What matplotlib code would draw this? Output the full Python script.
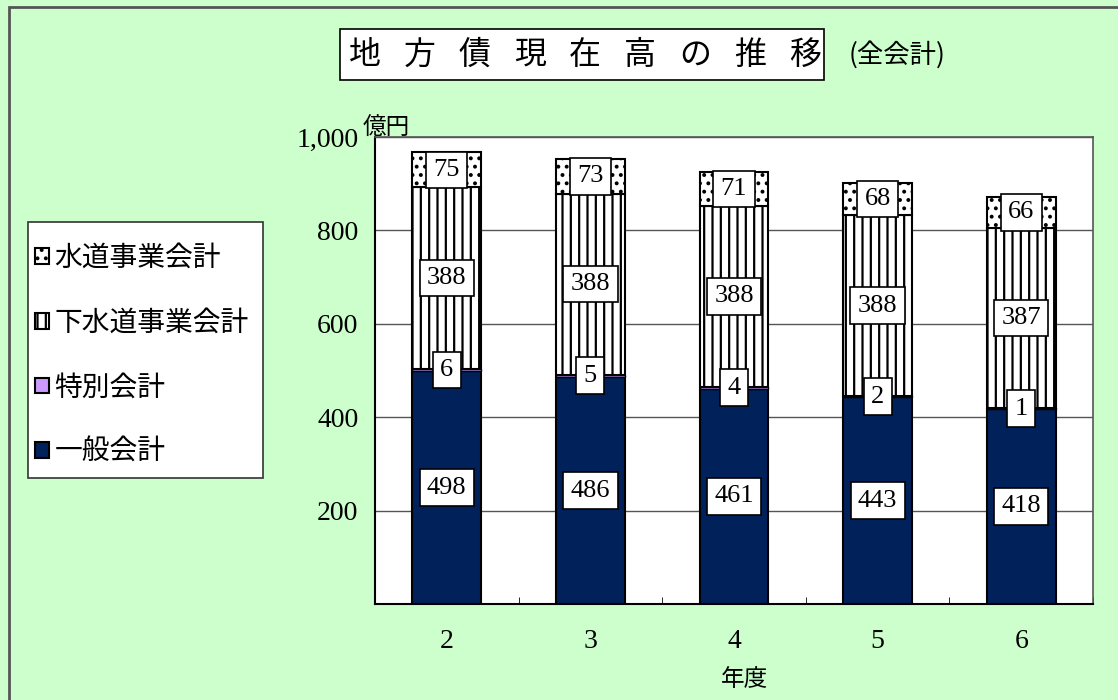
import matplotlib.pyplot as plt
from matplotlib.patches import Patch, Rectangle
import numpy as np

plt.rcParams['font.family'] = ['Noto Sans CJK JP', 'DejaVu Sans']
plt.rcParams['hatch.linewidth'] = 1.6

# fiscal years and outstanding debt by account (100 million yen)
years = ['2', '3', '4', '5', '6']
general = [498, 486, 461, 443, 418]
special = [6, 5, 4, 2, 1]
sewage = [388, 388, 388, 388, 387]
water = [75, 73, 71, 68, 66]

series_names = ['一般会計', '特別会計', '下水道事業会計', '水道事業会計']

W, H = 1118, 700
fig = plt.figure(figsize=(W / 100, H / 100), dpi=100)
fig.patch.set_facecolor('#CCFFCC')

def px(x, y):
    return x / W, 1 - y / H

def box(xa, ya, xb, yb, **kw):
    # rectangle given in pixel corners (top-left, bottom-right)
    fx0, fy0 = px(xa, yb)
    fx1, fy1 = px(xb, ya)
    fig.add_artist(Rectangle((fx0, fy0), fx1 - fx0, fy1 - fy0,
                             transform=fig.transFigure, **kw))

# outer frame
box(9, 7, 1130, 710, facecolor='none', edgecolor='#555555', lw=2)

ax = fig.add_axes([375 / W, 1 - 604 / H, (1093 - 375) / W, (604 - 137) / H])
ax.set_facecolor('white')

x = np.arange(len(years))
bw = 0.48
serif = 'Liberation Serif'

layers = [
    (general, dict(color='#00215A', edgecolor='black', lw=1.5)),
    (special, dict(color='#CC99FF', edgecolor='black', lw=1.0)),
    (sewage, dict(color='white', edgecolor='black', lw=1.5, hatch='||')),
    (water, dict(color='white', edgecolor='black', lw=1.5, hatch='..')),
]

bottom = np.zeros(len(years))
for vals, style in layers:
    vals = np.array(vals)
    ax.bar(x, vals, bw, bottom=bottom, zorder=3, **style)
    for xi, b, v in zip(x, bottom, vals):
        ax.text(xi, b + v / 2, str(v), ha='center', va='center', fontsize=19,
                family=serif, zorder=5,
                bbox=dict(boxstyle='square,pad=0.28', facecolor='white',
                          edgecolor='black', lw=1.2))
    bottom += vals

ax.set_xlim(-0.5, len(years) - 0.5)
ax.set_ylim(0, 1000)
ax.set_yticks([200, 400, 600, 800, 1000])
ax.set_yticklabels(['200', '400', '600', '800', '1,000'], family=serif, fontsize=20)
ax.set_xticks(x)
ax.set_xticklabels(years, family=serif, fontsize=20)
ax.set_xticks(np.arange(len(years) + 1) - 0.5, minor=True)
ax.tick_params(axis='x', which='major', length=0, pad=18)
ax.tick_params(axis='x', which='minor', direction='in', length=5)
ax.tick_params(axis='y', length=0, pad=12)
ax.yaxis.grid(True, color='#555555', lw=1, zorder=0)

for side in ['left', 'bottom']:
    ax.spines[side].set_color('black')
    ax.spines[side].set_linewidth(1.5)
for side in ['top', 'right']:
    ax.spines[side].set_color('#555555')
    ax.spines[side].set_linewidth(1.2)

fig.text(*px(386, 128), '億円', ha='center', va='center', fontsize=17)
fig.text(*px(745, 680), '年度', ha='center', va='center', fontsize=17)

# title in a box, characters spread evenly
box(340, 29, 824, 80, facecolor='white', edgecolor='black', lw=1.2)
title = '地方債現在高の推移'
for i, ch in enumerate(title):
    fig.text(*px(365 + i * 55, 55), ch, ha='center', va='center', fontsize=23)
fig.text(*px(897, 55), '(全会計)', ha='center', va='center', fontsize=19)

# legend, top entry first, inside its own white box
box(28, 222, 263, 478, facecolor='white', edgecolor='#333333', lw=1.2)
handles = [Patch(facecolor=s['color'], edgecolor='black', hatch=s.get('hatch'), lw=1.5)
           for _, s in layers][::-1]
leg = fig.legend(handles, series_names[::-1], loc='center left',
                 bbox_to_anchor=px(35, 355), borderaxespad=0, borderpad=0,
                 fontsize=20, frameon=False, handlelength=0.5, handleheight=0.5,
                 handletextpad=0.2, labelspacing=1.25)

fig.savefig('out.png', dpi=100, facecolor=fig.get_facecolor())
